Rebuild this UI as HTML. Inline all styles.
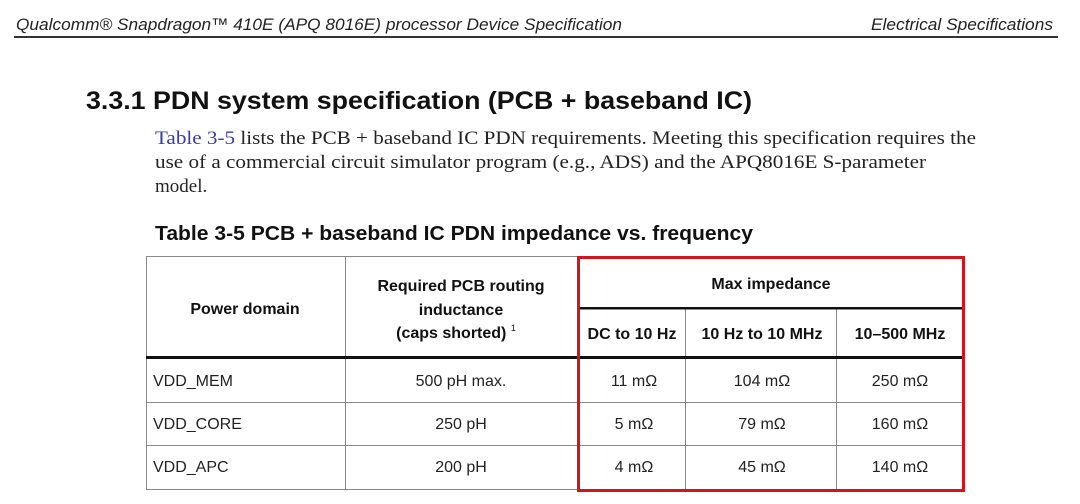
<!DOCTYPE html>
<html><head><meta charset="utf-8"><style>
body{margin:0;background:#fff;}
svg{display:block}
</style></head><body>
<svg width="1080" height="504" xmlns="http://www.w3.org/2000/svg" font-family="Liberation Sans, sans-serif">
<rect width="1080" height="504" fill="#fff"/>
<text x="16" y="30" font-size="17" font-style="italic" fill="#222" textLength="606" lengthAdjust="spacingAndGlyphs">Qualcomm® Snapdragon™ 410E (APQ 8016E) processor Device Specification</text>
<text x="1053" y="30" font-size="17" font-style="italic" fill="#222" text-anchor="end" textLength="182" lengthAdjust="spacingAndGlyphs">Electrical Specifications</text>
<rect x="14" y="36" width="1044" height="2" fill="#333"/>
<text x="86" y="109" font-size="25" font-weight="bold" fill="#111" textLength="666" lengthAdjust="spacingAndGlyphs">3.3.1 PDN system specification (PCB + baseband IC)</text>
<g font-family="Liberation Serif, serif" font-size="19" fill="#222">
<text x="155" y="144" textLength="821" lengthAdjust="spacingAndGlyphs"><tspan fill="#3a3aa8">Table 3-5</tspan> lists the PCB + baseband IC PDN requirements. Meeting this specification requires the</text>
<text x="155" y="168" textLength="771" lengthAdjust="spacingAndGlyphs">use of a commercial circuit simulator program (e.g., ADS) and the APQ8016E S-parameter</text>
<text x="155" y="192">model.</text>
</g>
<text x="155" y="240" font-size="20" font-weight="bold" fill="#111" textLength="598" lengthAdjust="spacingAndGlyphs">Table 3-5 PCB + baseband IC PDN impedance vs. frequency</text>
<g stroke="#888" stroke-width="1" fill="none">
<rect x="146.5" y="256.5" width="817" height="233"/>
<line x1="345.5" y1="256" x2="345.5" y2="490"/>
<line x1="685.5" y1="309" x2="685.5" y2="490"/>
<line x1="836.5" y1="309" x2="836.5" y2="490"/>
<line x1="146" y1="402.5" x2="964" y2="402.5"/>
<line x1="146" y1="445.5" x2="964" y2="445.5"/>
</g>
<rect x="146" y="356" width="818" height="3" fill="#111"/>
<rect x="578" y="307" width="385" height="2.5" fill="#111"/>
<rect x="578.5" y="257.5" width="385" height="233" fill="none" stroke="#d4141c" stroke-width="3"/>
<g font-size="16" fill="#111" text-anchor="middle" font-weight="bold">
<text x="245" y="314">Power domain</text>
<text x="461" y="291">Required PCB routing</text>
<text x="461" y="315">inductance</text>
<text x="456" y="338">(caps shorted) <tspan font-size="9" dy="-7" font-weight="normal">1</tspan></text>
<text x="771" y="289">Max impedance</text>
<text x="632" y="339">DC to 10 Hz</text>
<text x="762" y="339">10 Hz to 10 MHz</text>
<text x="900" y="339">10–500 MHz</text>
</g>
<g font-size="16" fill="#222">
<text x="153" y="386">VDD_MEM</text>
<text x="153" y="429">VDD_CORE</text>
<text x="153" y="472">VDD_APC</text>
</g>
<g font-size="16" fill="#222" text-anchor="middle">
<text x="461" y="386">500 pH max.</text>
<text x="461" y="429">250 pH</text>
<text x="461" y="472">200 pH</text>
<text x="634" y="386">11 mΩ</text>
<text x="634" y="429">5 mΩ</text>
<text x="634" y="472">4 mΩ</text>
<text x="762" y="386">104 mΩ</text>
<text x="762" y="429">79 mΩ</text>
<text x="762" y="472">45 mΩ</text>
<text x="900" y="386">250 mΩ</text>
<text x="900" y="429">160 mΩ</text>
<text x="900" y="472">140 mΩ</text>
</g>
</svg>
</body></html>
